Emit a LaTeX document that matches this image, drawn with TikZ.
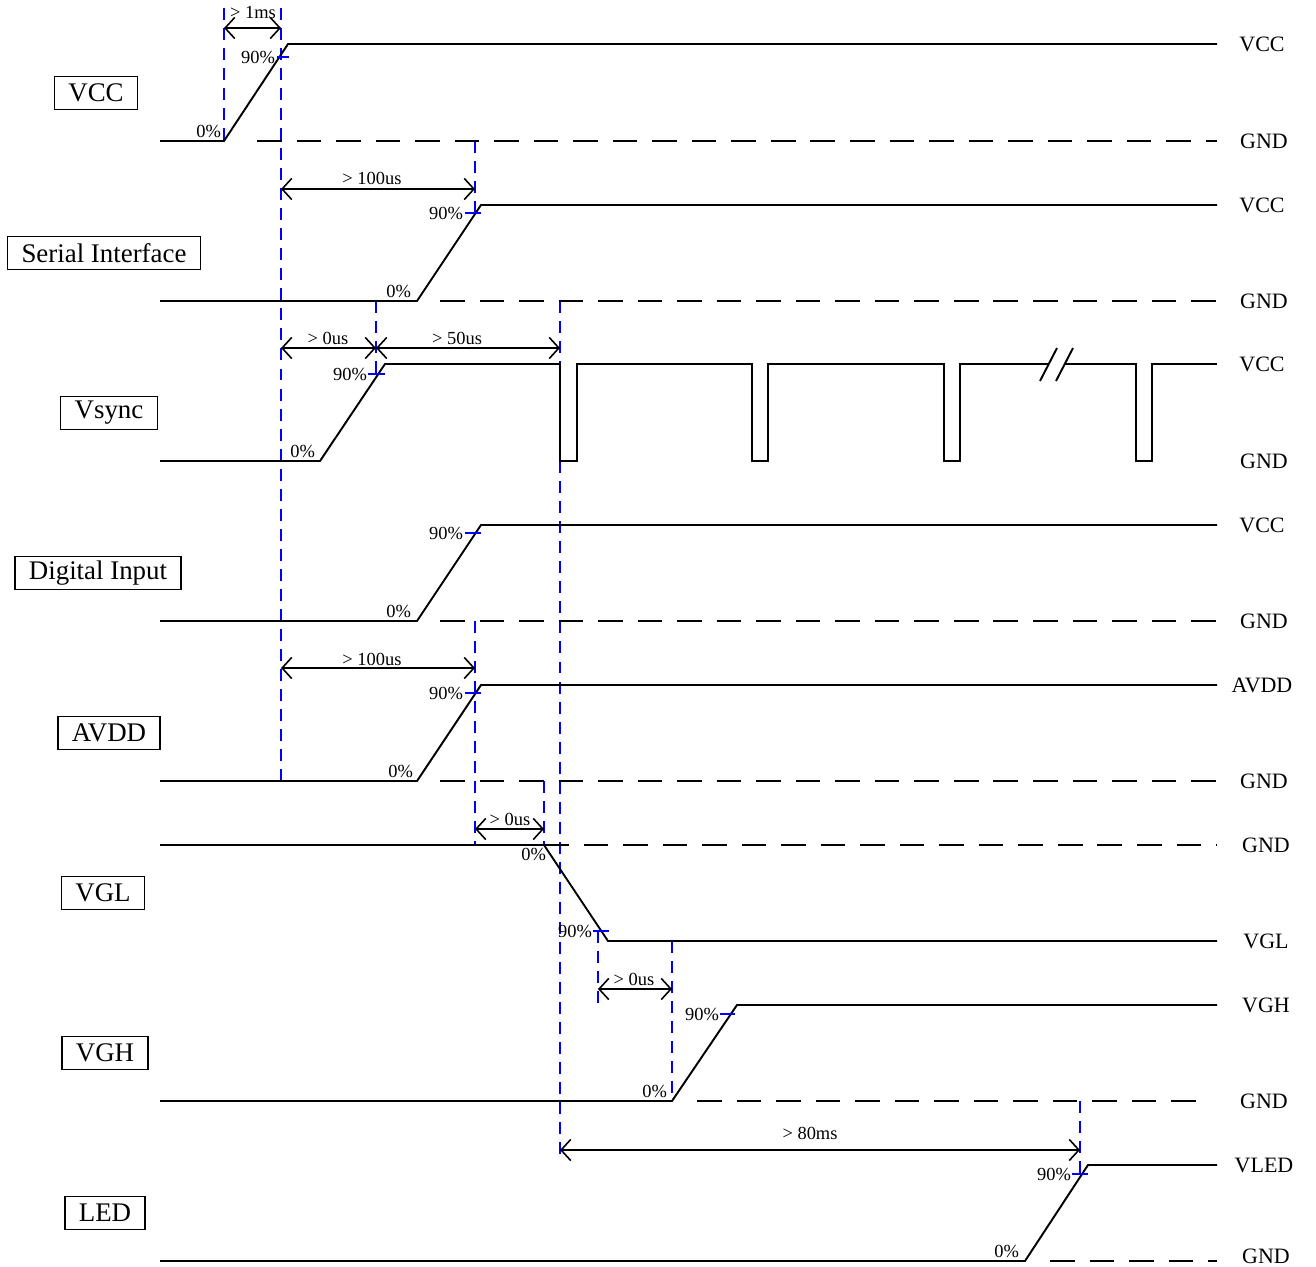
\documentclass[tikz,border=0pt]{standalone}
\usepackage{fontspec}
\setmainfont{Liberation Serif}
\usepackage{xcolor}
\usepackage{tikz}
\usetikzlibrary{arrows.meta,positioning}

\begin{document}
\begin{tikzpicture}[x=0.02cm, y=-0.02cm,
    sig/.style={line width=1.1pt, line join=miter},
    gnd/.style={line width=1.1pt, dash pattern=on 14pt off 8.5pt},
    guide/.style={blue, line width=1.1pt, dash pattern=on 6.8pt off 4.6pt},
    mark90/.style={blue, line width=1.1pt},
    dim/.style={{Straight Barb[length=5.5pt,width=12pt]}-{Straight Barb[length=5.5pt,width=12pt]}, line width=0.9pt},
    pct/.style={font=\fontsize{10.5}{12}\selectfont, inner sep=1pt},
    dimlabel/.style={font=\fontsize{10.5}{12}\selectfont, inner sep=1pt},
    rail/.style={font=\fontsize{12.5}{14}\selectfont, inner sep=0pt},
    sigbox/.style={draw, line width=0.8pt, font=\fontsize{15.3}{18}\selectfont, minimum height=0.66cm, inner xsep=0.28cm, inner ysep=0pt}]

    \useasboundingbox (0,0) rectangle (1316,1267);

    % signal names
    \node[sigbox] (vccBox) at (96,93) {VCC};
    \node[sigbox] (serialBox) at (104,253) {Serial Interface};
    \node[sigbox] (vsyncBox) at (109,413) {Vsync};
    \node[sigbox] (digitalBox) at (98,573) {Digital Input};
    \node[sigbox] (avddBox) at (109,733) {AVDD};
    \node[sigbox] (vglBox) at (103,893) {VGL};
    \node[sigbox] (vghBox) at (105,1053) {VGH};
    \node[sigbox] (ledBox) at (105,1213) {LED};

    % rail names
    \node[rail] (vccHi) at (1262,44) {VCC};
    \node[rail] (vccLo) at (1264,141) {GND};
    \node[rail] (serialHi) at (1262,205) {VCC};
    \node[rail] (serialLo) at (1264,301) {GND};
    \node[rail] (vsyncHi) at (1262,364) {VCC};
    \node[rail] (vsyncLo) at (1264,461) {GND};
    \node[rail] (digitalHi) at (1262,525) {VCC};
    \node[rail] (digitalLo) at (1264,621) {GND};
    \node[rail] (avddHi) at (1262,685) {AVDD};
    \node[rail] (avddLo) at (1264,781) {GND};
    \node[rail] (vglHi) at (1266,845) {GND};
    \node[rail] (vglLo) at (1266,941) {VGL};
    \node[rail] (vghHi) at (1266,1005) {VGH};
    \node[rail] (vghLo) at (1264,1101) {GND};
    \node[rail] (ledHi) at (1264,1165) {VLED};
    \node[rail] (ledLo) at (1266,1256) {GND};

    % blue guide lines
    \draw[guide] (224,8) -- (224,141);
    \draw[guide] (281,8) -- (281,781);
    \draw[guide] (475,141) -- (475,213);
    \draw[guide] (376,301) -- (376,374);
    \draw[guide] (560,301) -- (560,1155);
    \draw[guide] (475,621) -- (475,845);
    \draw[guide] (544,781) -- (544,845);
    \draw[guide] (598,931) -- (598,1005);
    \draw[guide] (672,941) -- (672,1101);
    \draw[guide] (1080,1101) -- (1080,1174);

    % VCC
    \draw[sig] (160,141) -- (224,141) -- (288,44) -- (1217,44);
    \draw[gnd] (257,141) -- (1217,141);
    \draw[mark90] (277,57) -- (289,57);
    \node[pct, anchor=east] (vcc90) at (277,57) {90\%};
    \node[pct, anchor=south east] (vcc0) at (223,140) {0\%};

    % Serial Interface
    \draw[sig] (160,301) -- (417,301) -- (481,205) -- (1217,205);
    \draw[gnd] (440,301) -- (1217,301);
    \draw[mark90] (465,213) -- (481,213);
    \node[pct, anchor=east] (serial90) at (465,213) {90\%};
    \node[pct, anchor=south east] (serial0) at (413,300) {0\%};

    % Vsync
    \draw[sig] (160,461) -- (320,461) -- (385,364) -- (560,364) -- (560,461) -- (577,461) -- (577,364)
        -- (752,364) -- (752,461) -- (768,461) -- (768,364)
        -- (944,364) -- (944,461) -- (960,461) -- (960,364) -- (1048,364);
    \draw[sig] (1065,364) -- (1136,364) -- (1136,461) -- (1152,461) -- (1152,364) -- (1217,364);
    \draw[sig] (1040,381) -- (1057,348);
    \draw[sig] (1056,381) -- (1073,348);
    \draw[mark90] (368,374) -- (385,374);
    \node[pct, anchor=east] (vsync90) at (369,374) {90\%};
    \node[pct, anchor=south east] (vsync0) at (317,460) {0\%};

    % Digital Input
    \draw[sig] (160,621) -- (417,621) -- (481,525) -- (1217,525);
    \draw[gnd] (440,621) -- (1217,621);
    \draw[mark90] (465,533) -- (481,533);
    \node[pct, anchor=east] (digital90) at (465,533) {90\%};
    \node[pct, anchor=south east] (digital0) at (413,620) {0\%};

    % AVDD
    \draw[sig] (160,781) -- (417,781) -- (481,685) -- (1217,685);
    \draw[gnd] (440,781) -- (1217,781);
    \draw[mark90] (465,693) -- (481,693);
    \node[pct, anchor=east] (avdd90) at (465,693) {90\%};
    \node[pct, anchor=south east] (avdd0) at (415,780) {0\%};

    % VGL
    \draw[sig] (160,845) -- (544,845) -- (608,941) -- (1217,941);
    \draw[gnd] (544,845) -- (1217,845);
    \draw[mark90] (593,931) -- (609,931);
    \node[pct, anchor=east] (vgl90) at (594,931) {90\%};
    \node[pct, anchor=north east] (vgl0) at (548,846) {0\%};

    % VGH
    \draw[sig] (160,1101) -- (672,1101) -- (737,1005) -- (1217,1005);
    \draw[gnd] (697,1101) -- (1205,1101);
    \draw[mark90] (720,1014) -- (735,1014);
    \node[pct, anchor=east] (vgh90) at (721,1014) {90\%};
    \node[pct, anchor=south east] (vgh0) at (669,1100) {0\%};

    % LED
    \draw[sig] (160,1261) -- (1025,1261) -- (1088,1165) -- (1217,1165);
    \draw[gnd] (1050,1261) -- (1217,1261);
    \draw[mark90] (1072,1174) -- (1088,1174);
    \node[pct, anchor=east] (led90) at (1073,1174) {90\%};
    \node[pct, anchor=south east] (led0) at (1021,1260) {0\%};

    % timing requirements
    \draw[dim] (224,28) -- (281,28);
    \node[dimlabel] (t1ms) at (253,13) {> 1ms};
    \draw[dim] (281,189) -- (475,189);
    \node[dimlabel] (tSerial) at (372,178) {> 100us};
    \draw[dim] (281,348) -- (376,348);
    \node[dimlabel] (tVsyncA) at (328,338) {> 0us};
    \draw[dim] (376,348) -- (560,348);
    \node[dimlabel] (tVsyncB) at (457,338) {> 50us};
    \draw[dim] (281,668) -- (475,668);
    \node[dimlabel] (tAvdd) at (372,659) {> 100us};
    \draw[dim] (475,829) -- (544,829);
    \node[dimlabel] (tVgl) at (510,819) {> 0us};
    \draw[dim] (598,989) -- (672,989);
    \node[dimlabel] (tVgh) at (634,979) {> 0us};
    \draw[dim] (560,1150) -- (1080,1150);
    \node[dimlabel] (tLed) at (810,1133) {> 80ms};
\end{tikzpicture}
\end{document}
